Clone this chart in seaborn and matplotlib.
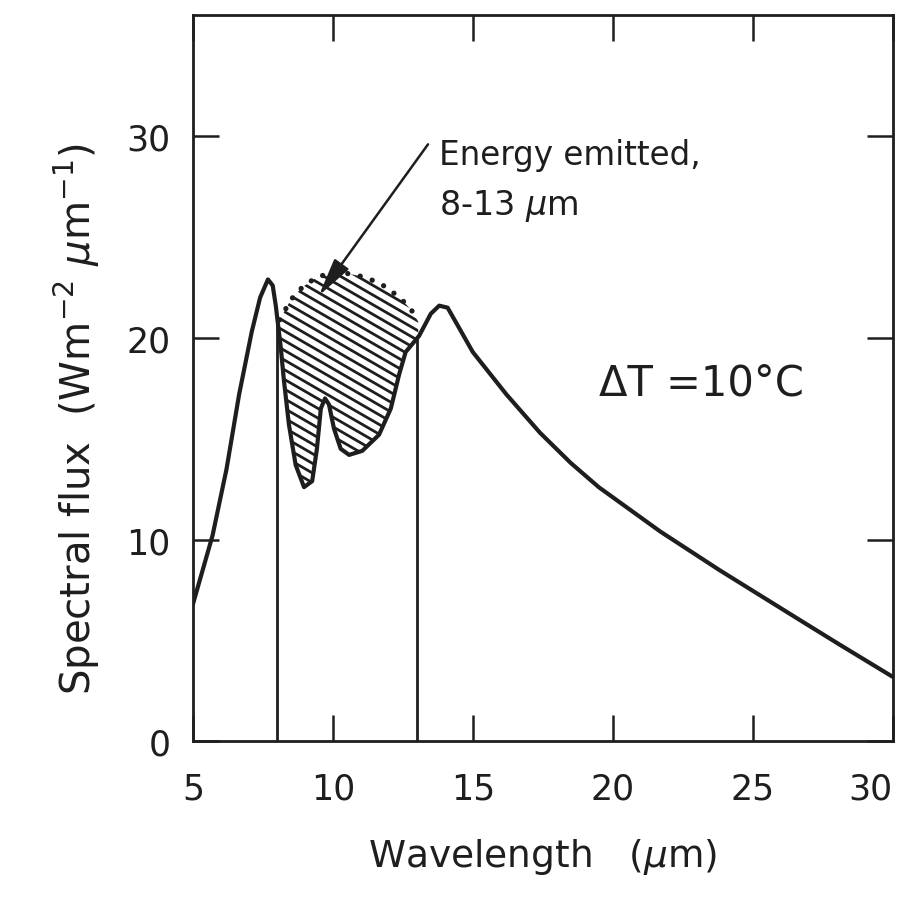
import numpy as np
import matplotlib
matplotlib.use("Agg")
import matplotlib.pyplot as plt
import seaborn as sns
import pandas as pd

# ---- data ----
wavelength = [5.0, 5.7, 6.2, 6.65, 7.1, 7.4, 7.68, 7.85, 7.96, 8.14, 8.25, 8.43,
              8.67, 8.97, 9.26, 9.43, 9.57, 9.72, 9.86, 10.04, 10.28, 10.58,
              11.05, 11.65, 12.07, 12.37, 12.6, 13.08, 13.5, 13.8, 14.1, 15.0,
              16.2, 17.4, 18.5, 19.5, 21.7, 23.8, 26.7, 28.1, 30.0]
flux = [6.8, 10.2, 13.5, 17.2, 20.3, 22.0, 22.9, 22.6, 21.6, 19.5, 17.9, 15.7,
        13.7, 12.6, 12.9, 14.5, 16.5, 17.0, 16.7, 15.5, 14.5, 14.2,
        14.4, 15.2, 16.5, 18.2, 19.3, 20.1, 21.2, 21.6, 21.5, 19.3,
        17.2, 15.3, 13.8, 12.6, 10.4, 8.5, 6.0, 4.8, 3.2]

# blackbody envelope (dotted) over the 8-13 um window
envelope_x = [8.1, 8.5, 8.9, 9.4, 9.9, 10.5, 11.2, 11.8, 12.4, 12.85, 13.05]
envelope_y = [20.9, 21.9, 22.5, 23.0, 23.2, 23.2, 23.0, 22.6, 22.0, 21.3, 20.8]

window_edges = [8.0, 13.0]
xtick_vals = [5, 10, 15, 20, 25, 30]
ytick_vals = [0, 10, 20, 30]

df = pd.DataFrame({"wavelength": wavelength, "flux": flux})

sns.set_style("ticks")
plt.rcParams["font.family"] = ["DejaVu Sans"]
ink = "#1e1e1e"

fig = plt.figure(figsize=(9.08, 9.03), dpi=100)
ax = fig.add_axes([0.2125, 0.178, 0.7705, 0.804])

sns.lineplot(data=df, x="wavelength", y="flux", ax=ax, color=ink,
             linewidth=3.0, sort=True, estimator=None)

# vertical window lines from 0 to the curve
for xe in window_edges:
    ax.vlines(xe, 0, np.interp(xe, wavelength, flux), color=ink, linewidth=2.0)

# dotted envelope
ax.plot(envelope_x, envelope_y, linestyle=(0, (0.01, 2.4)), color=ink,
        linewidth=3.8, dash_capstyle="round")

ax.set_xlim(5, 30)
ax.set_ylim(0, 36)

# hatched region between curve and envelope (clip path)
xg = np.linspace(envelope_x[0] - 0.05, envelope_x[-1], 400)
lower = np.interp(xg, wavelength, flux)
upper = np.interp(xg, envelope_x, envelope_y)
poly = ax.fill_between(xg, lower, np.maximum(upper, lower), facecolor="none",
                       edgecolor="none")
clip = poly.get_paths()[0]
# hatch lines at about 30 degrees (display), drawn in data space
sx = 695 / 25.0   # px per x unit
sy = 724 / 36.0   # px per y unit
slope = -0.58 * sx / sy
for c in np.arange(8.0, 40.0, 0.48):
    hx = np.array([7.5, 13.5])
    hy = c + slope * (hx - 7.5)
    ln, = ax.plot(hx, hy, color=ink, linewidth=2.0, solid_capstyle="butt")
    ln.set_clip_path(clip, ax.transData)

# annotations
ax.annotate("", xy=(9.5, 22.1), xytext=(13.4, 29.6),
            arrowprops=dict(arrowstyle="-|>,head_length=1.3,head_width=0.3",
                            color=ink, lw=1.8, shrinkA=0, shrinkB=0,
                            mutation_scale=18))
ax.text(13.8, 29.1, "Energy emitted,", fontsize=23.5, color=ink,
        ha="left", va="center")
ax.text(13.8, 26.6, "8-13 $\\mu$m", fontsize=24, color=ink,
        ha="left", va="center")
ax.text(19.5, 17.8, "ΔT =10°C", fontsize=30, color=ink,
        ha="left", va="center")

# ticks / spines
ax.set_xticks(xtick_vals)
ax.set_yticks(ytick_vals)
ax.set_xticklabels([str(v) for v in xtick_vals])
ax.set_yticklabels([str(v) for v in ytick_vals])
ax.tick_params(axis="both", direction="in", length=19, width=1.8,
               colors=ink, labelsize=25, top=True, right=True)
ax.tick_params(axis="x", pad=22)
ax.tick_params(axis="y", pad=16)
ax.get_xticklabels()[-1].set_ha("right")
for sp in ax.spines.values():
    sp.set_linewidth(2.0)
    sp.set_color(ink)

ax.set_xlabel("Wavelength   ($\\mu$m)", fontsize=27, color=ink, labelpad=22)
ax.set_ylabel("Spectral flux  (Wm$^{-2}$ $\\mu$m$^{-1}$)", fontsize=29,
              color=ink)
ax.yaxis.set_label_coords(-0.13, 0.445)

fig.savefig("out.png", dpi=100)
